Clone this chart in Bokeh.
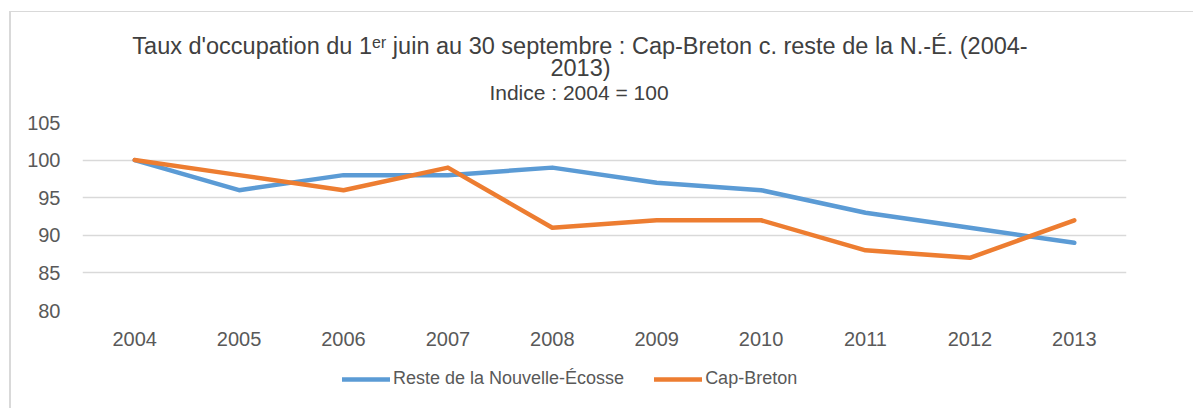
from bokeh.plotting import figure
from bokeh.models import Range1d, FactorRange, Legend, LegendItem, Label
from bokeh.layouts import column
from bokeh.embed import file_html
from bokeh.resources import INLINE

years = ["2004", "2005", "2006", "2007", "2008", "2009", "2010", "2011", "2012", "2013"]
reste_ne = [100, 96, 98, 98, 99, 97, 96, 93, 91, 89]
cap_breton = [100, 98, 96, 99, 91, 92, 92, 88, 87, 92]
series_names = ["Reste de la Nouvelle-Écosse", "Cap-Breton"]
series_colors = ["#5B9BD5", "#ED7D31"]
title_lines = [
    "Taux d'occupation du 1ᵉʳ juin au 30 septembre : Cap-Breton c. reste de la N.-É. (2004-",
    "2013)",
    "Indice : 2004 = 100",
]

FONT = "Liberation Sans"
TXT = "#595959"
W = 1182
TH = 95   # title strip height
PH = 248  # chart height
LH = 53   # legend strip height


def strip(h):
    f = figure(width=W, height=h, x_range=Range1d(0, W), y_range=Range1d(0, h),
               output_backend="svg", toolbar_location=None,
               min_border=0, min_border_left=0, min_border_right=0,
               min_border_top=0, min_border_bottom=0,
               x_axis_type=None, y_axis_type=None)
    f.frame_align = False
    f.title = None
    f.outline_line_color = None
    f.grid.visible = False
    return f


# ---- title strip
tt = strip(TH)
for txt, fs, cx, by in [(title_lines[0], "23.5px", 568.5, 62),
                        (title_lines[1], "23.5px", 569, 40),
                        (title_lines[2], "21px", 567.5, 15.5)]:
    tt.add_layout(Label(x=cx, y=by, text=txt, text_align="center", text_baseline="alphabetic",
                        text_font=FONT, text_font_size=fs, text_color="#404040"))

# ---- main chart
p = figure(
    width=W, height=PH,
    x_range=FactorRange(*years, range_padding=0),
    y_range=Range1d(80, 105),
    output_backend="svg", toolbar_location=None,
    min_border_left=71, min_border_right=67, min_border_top=15, min_border_bottom=45,
)
p.frame_align = False
p.title = None
p.outline_line_color = None

p.xgrid.grid_line_color = None
p.ygrid.grid_line_color = "#d9d9d9"
p.ygrid.grid_line_width = 1.5
p.yaxis.ticker = [80, 85, 90, 95, 100, 105]

for ax in (p.xaxis, p.yaxis):
    ax.axis_line_color = None
    ax.major_tick_line_color = None
    ax.minor_tick_line_color = None
    ax.major_label_text_font = FONT
    ax.major_label_text_font_size = "20px"
    ax.major_label_text_color = TXT
p.xaxis.major_label_standoff = 15
p.yaxis.major_label_standoff = 16

p.line(years, reste_ne, line_color=series_colors[0], line_width=4.5, line_join="round", line_cap="round")
p.line(years, cap_breton, line_color=series_colors[1], line_width=4.5, line_join="round", line_cap="round")

# ---- legend strip (sample lines hold an off-view point so the legend can draw them)
leg = strip(LH)
lr1 = leg.line([-10, -5], [-10, -5], line_color=series_colors[0], line_width=4.5, line_cap="round")
lr2 = leg.line([-10, -5], [-10, -5], line_color=series_colors[1], line_width=4.5, line_cap="round")
legend = Legend(
    items=[LegendItem(label=series_names[0], renderers=[lr1]), LegendItem(label=series_names[1], renderers=[lr2])],
    orientation="horizontal", location=(331, 19),
    glyph_width=48, label_standoff=3, spacing=30, padding=0, margin=0,
    label_text_font=FONT, label_text_font_size="18px", label_text_color=TXT,
    background_fill_alpha=0, border_line_color=None,
)
leg.add_layout(legend, "center")

root = column(tt, p, leg, spacing=0)
root.styles = {"border-left": "2px solid #d9d9d9", "border-top": "1px solid #d9d9d9",
               "margin-left": "9px", "margin-top": "11px"}

open("out.html", "w").write(file_html(root, INLINE))
